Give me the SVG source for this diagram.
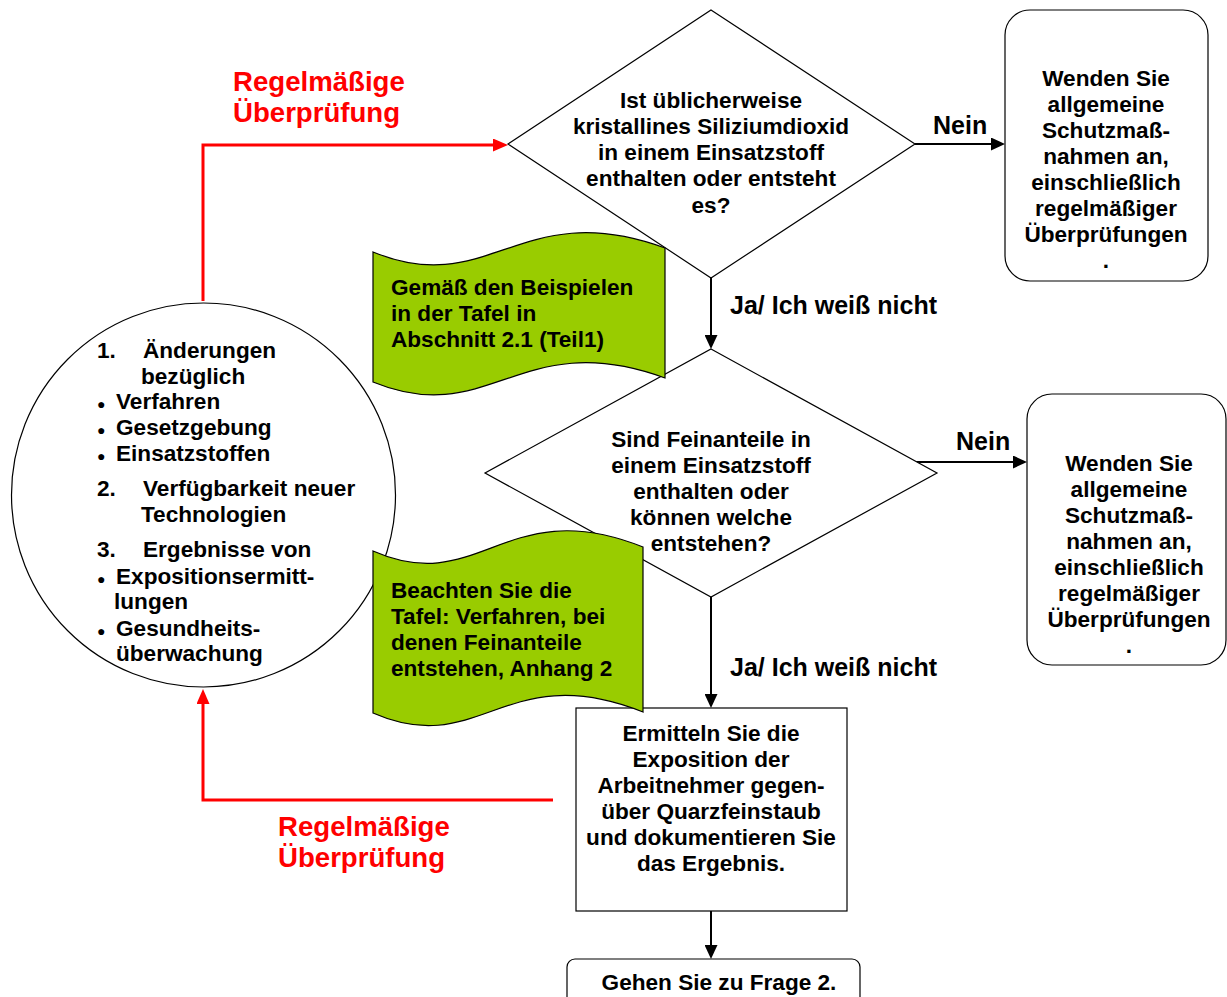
<svg xmlns="http://www.w3.org/2000/svg" width="1227" height="997" viewBox="0 0 1227 997">
<defs>
<style>
.t{font-family:"Liberation Sans",Arial,sans-serif;font-weight:bold;font-size:22.6px;fill:#000}
.c{text-anchor:middle}
.lbl{font-family:"Liberation Sans",Arial,sans-serif;font-weight:bold;font-size:25px;fill:#000}
.red{font-family:"Liberation Sans",Arial,sans-serif;font-weight:bold;font-size:27.6px;fill:#ff0000}
.shape{fill:#fff;stroke:#000;stroke-width:1.2}
.note{fill:#99cc00;stroke:#000;stroke-width:1.2}
.bl{fill:none;stroke:#000;stroke-width:2}
.rl{fill:none;stroke:#ff0000;stroke-width:3}
.bu{font-size:14px}
</style>
<marker id="ab" viewBox="0 0 14 13" refX="0" refY="6.5" markerWidth="14" markerHeight="13" markerUnits="userSpaceOnUse" orient="auto">
<path d="M0,0 L14,6.5 L0,13 Z" fill="#000"/>
</marker>
<marker id="ar" viewBox="0 0 15 13" refX="0" refY="6.5" markerWidth="15" markerHeight="13" markerUnits="userSpaceOnUse" orient="auto">
<path d="M0,0 L15,6.5 L0,13 Z" fill="#ff0000"/>
</marker>
</defs>
<rect width="1227" height="997" fill="#fff"/>

<g id="connectors">
<path class="rl" d="M203,301 V145 H493" marker-end="url(#ar)"/>
<path class="rl" d="M553,800 H203 V704" marker-end="url(#ar)"/>
<path class="bl" d="M915,144 H991" marker-end="url(#ab)"/>
<path class="bl" d="M711,278 V335" marker-end="url(#ab)"/>
<path class="bl" d="M916,462 H1013" marker-end="url(#ab)"/>
<path class="bl" d="M711,597 V694" marker-end="url(#ab)"/>
<path class="bl" d="M711,911 V945" marker-end="url(#ab)"/>
<text class="lbl" x="933" y="134">Nein</text>
<text class="lbl" x="956" y="450">Nein</text>
<text class="lbl" x="730" y="314">Ja/ Ich weiß nicht</text>
<text class="lbl" x="730" y="676">Ja/ Ich weiß nicht</text>
<text class="red" x="233" y="91">Regelmäßige</text>
<text class="red" x="233" y="122">Überprüfung</text>
<text class="red" x="278" y="836">Regelmäßige</text>
<text class="red" x="278" y="867">Überprüfung</text>
</g>

<g id="circle">
<circle class="shape" cx="203.5" cy="495" r="192"/>
<text class="t" x="97" y="358">1.</text>
<text class="t" x="143" y="358">Änderungen</text>
<text class="t" x="141" y="384">bezüglich</text>
<text class="t" x="97" y="409"><tspan class="bu">●</tspan><tspan x="116">Verfahren</tspan></text>
<text class="t" x="97" y="435"><tspan class="bu">●</tspan><tspan x="116">Gesetzgebung</tspan></text>
<text class="t" x="97" y="461"><tspan class="bu">●</tspan><tspan x="116">Einsatzstoffen</tspan></text>
<text class="t" x="97" y="496">2.</text>
<text class="t" x="143" y="496">Verfügbarkeit neuer</text>
<text class="t" x="141" y="522">Technologien</text>
<text class="t" x="97" y="557">3.</text>
<text class="t" x="143" y="557">Ergebnisse von</text>
<text class="t" x="97" y="584"><tspan class="bu">●</tspan><tspan x="116">Expositionsermitt-</tspan></text>
<text class="t" x="114" y="609">lungen</text>
<text class="t" x="97" y="636"><tspan class="bu">●</tspan><tspan x="116">Gesundheits-</tspan></text>
<text class="t" x="116" y="661">überwachung</text>
</g>

<g id="diamond1">
<polygon class="shape" points="711,10 915,144 711,278 508,144"/>
<text class="t c" x="711" y="108">Ist üblicherweise</text>
<text class="t c" x="711" y="134">kristallines Siliziumdioxid</text>
<text class="t c" x="711" y="160">in einem Einsatzstoff</text>
<text class="t c" x="711" y="186">enthalten oder entsteht</text>
<text class="t c" x="711" y="213">es?</text>
</g>

<g id="diamond2">
<polygon class="shape" points="711,349 937,473 711,597 485,473"/>
<text class="t c" x="711" y="447">Sind Feinanteile in</text>
<text class="t c" x="711" y="473">einem Einsatzstoff</text>
<text class="t c" x="711" y="499">enthalten oder</text>
<text class="t c" x="711" y="525">können welche</text>
<text class="t c" x="711" y="551">entstehen?</text>
</g>

<g id="box1">
<rect class="shape" x="1005" y="10" width="203" height="271" rx="25"/>
<text class="t c" x="1106" y="86">Wenden Sie</text>
<text class="t c" x="1106" y="112">allgemeine</text>
<text class="t c" x="1106" y="138">Schutzmaß-</text>
<text class="t c" x="1106" y="164">nahmen an,</text>
<text class="t c" x="1106" y="190">einschließlich</text>
<text class="t c" x="1106" y="216">regelmäßiger</text>
<text class="t c" x="1106" y="242">Überprüfungen</text>
<text class="t c" x="1106" y="268">.</text>
</g>

<g id="box2">
<rect class="shape" x="1027" y="394" width="199" height="271" rx="25"/>
<text class="t c" x="1129" y="471">Wenden Sie</text>
<text class="t c" x="1129" y="497">allgemeine</text>
<text class="t c" x="1129" y="523">Schutzmaß-</text>
<text class="t c" x="1129" y="549">nahmen an,</text>
<text class="t c" x="1129" y="575">einschließlich</text>
<text class="t c" x="1129" y="601">regelmäßiger</text>
<text class="t c" x="1129" y="627">Überprüfungen</text>
<text class="t c" x="1129" y="653">.</text>
</g>

<g id="exposure">
<rect class="shape" x="576" y="708" width="271" height="203"/>
<text class="t c" x="711" y="741">Ermitteln Sie die</text>
<text class="t c" x="711" y="767">Exposition der</text>
<text class="t c" x="711" y="793">Arbeitnehmer gegen-</text>
<text class="t c" x="711" y="819">über Quarzfeinstaub</text>
<text class="t c" x="711" y="845">und dokumentieren Sie</text>
<text class="t c" x="711" y="871">das Ergebnis.</text>
</g>

<g id="goto">
<rect class="shape" x="567" y="959" width="293" height="60" rx="8"/>
<text class="t c" x="719" y="990">Gehen Sie zu Frage 2.</text>
</g>

<g id="note1">
<path class="note" d="M373,252 C490,300 520,195 665,248 L665,378 C520,325 490,430 373,382 Z"/>
<text class="t" x="391" y="295">Gemäß den Beispielen</text>
<text class="t" x="391" y="321">in der Tafel in</text>
<text class="t" x="391" y="347">Abschnitt 2.1 (Teil1)</text>
</g>

<g id="note2">
<path class="note" d="M373,551 C480,598 505,492 643,547 L643,712 C505,657 480,760 373,713 Z"/>
<text class="t" x="391" y="598">Beachten Sie die</text>
<text class="t" x="391" y="624">Tafel: Verfahren, bei</text>
<text class="t" x="391" y="650">denen Feinanteile</text>
<text class="t" x="391" y="676">entstehen, Anhang 2</text>
</g>
</svg>
